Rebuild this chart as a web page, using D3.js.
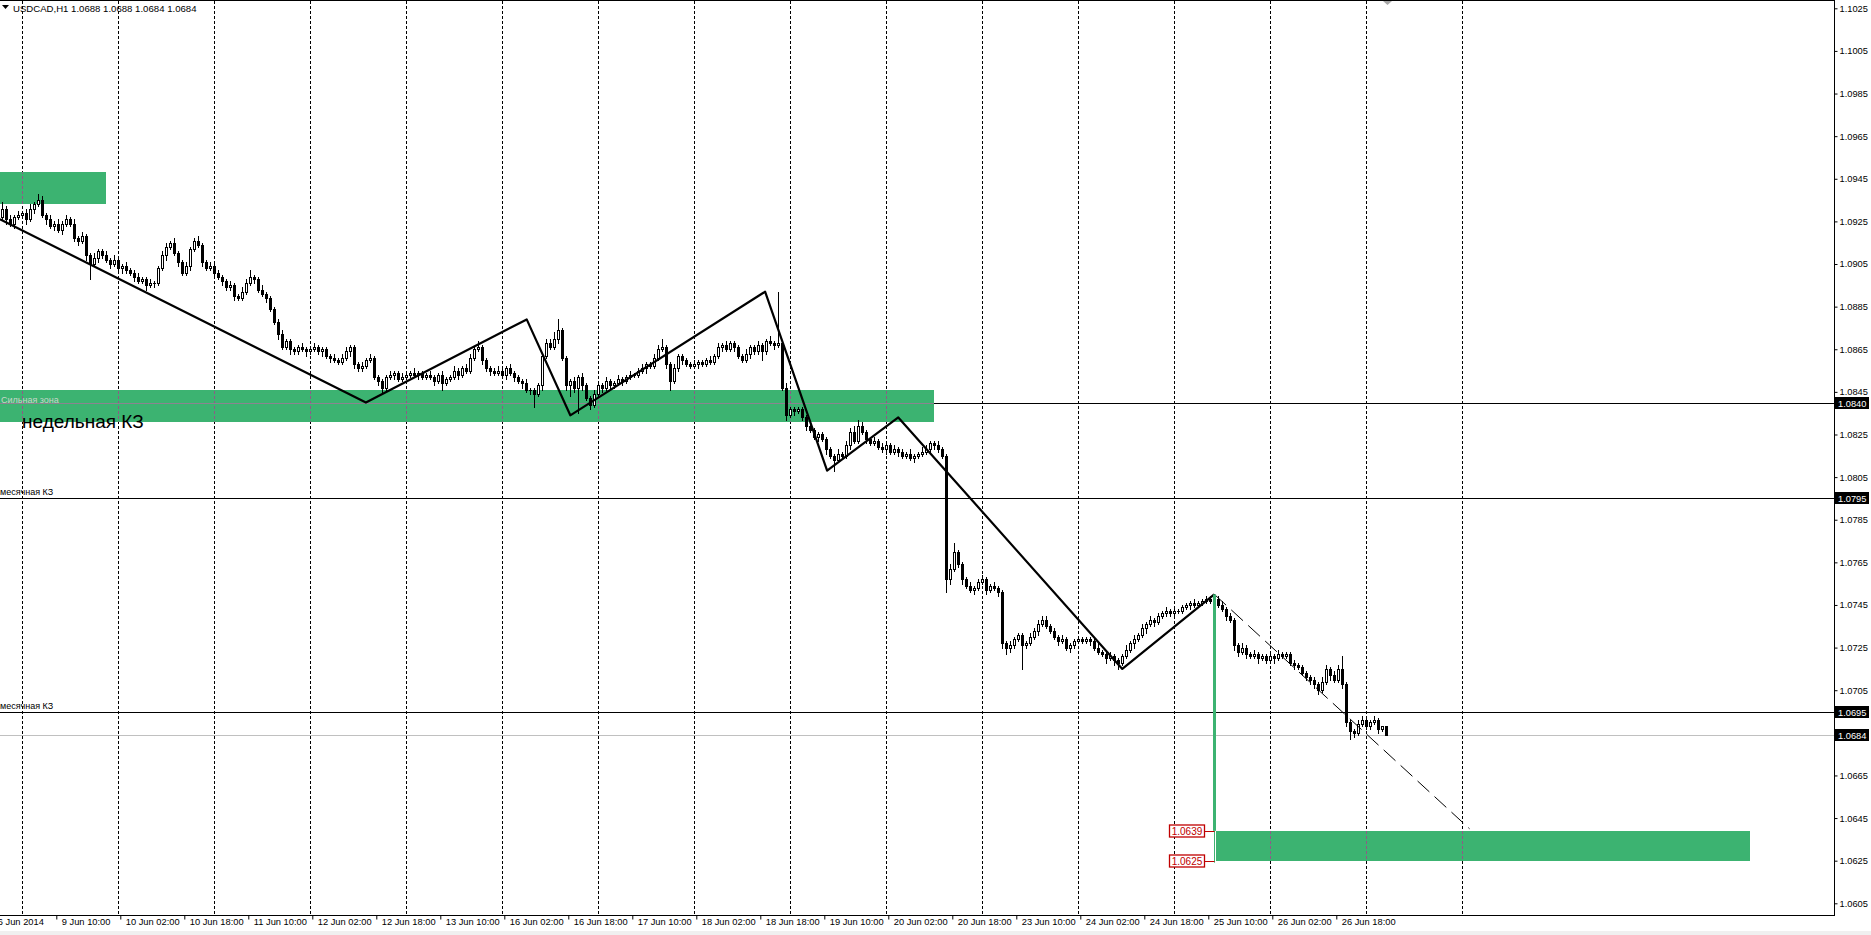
<!DOCTYPE html>
<html>
<head>
<meta charset="utf-8">
<script src="https://cdn.jsdelivr.net/npm/d3@7"></script>
<style>
  html, body { margin: 0; padding: 0; background: #fff; overflow: hidden; }
  svg { display: block; font-family: "Liberation Sans", Arial, sans-serif; }
</style>
</head>
<body>
<svg id="chart" width="1871" height="935"></svg>
<script>
// ---------------------------------------------------------------------
// USDCAD H1 data, in pips above 1.0000 (925 -> 1.0925). One bar per hour,
// bar index 0 = 9 Jun 2014 00:00. Open of a bar is the previous close.
// ---------------------------------------------------------------------
const firstBar  = -6;
const firstOpen = 925;

const closes = [
  927, 931, 926, 924, 927, 928,
  929, 926, 931, 933, 935, 928,
  926, 923, 924, 921, 924, 926,
  924, 917, 916, 918, 909, 905,
  908, 911, 909, 907,
  905, 907, 903, 904, 902,
  901, 899, 897, 898, 895, 896, 896,
  903, 909, 913, 915,
  910, 906, 901, 904,
  912, 916, 914, 906,
  903, 904, 901, 899,
  897, 894, 895, 890, 889, 892,
  896, 899, 898, 893, 891, 889,
  884, 878, 872, 866, 869, 865, 864,
  866, 865, 864, 865, 866, 864, 865,
  862, 861, 860, 859, 861, 864, 866,
  858, 856, 857, 860, 861,
  852, 850, 847, 852, 853, 854, 851, 852,
  853, 854, 853, 854, 852, 853,
  852, 850, 853, 849, 851,
  852, 855, 853, 856, 855,
  861, 865, 866, 860,
  856, 855, 854, 855, 853, 856, 854, 852,
  850, 849, 846, 846, 844, 848,
  862, 868, 866, 870, 874, 861, 848,
  850, 847, 852, 848, 842, 839, 844, 848, 847, 850,
  848, 849, 851, 850, 852, 853, 853, 855, 856, 858, 857, 861,
  865, 866, 858, 850, 856, 862, 860, 858,
  857, 858, 859, 858, 860, 859,
  862, 866, 867, 865, 868, 866, 862, 860,
  863, 866, 864, 867, 864, 869, 868, 867, 868,
  847, 834, 837, 836, 837,
  833, 829, 827, 824, 825, 823,
  818, 815, 813, 816, 815,
  820, 826, 822, 829, 826, 823, 821, 822,
  819, 818, 820, 817, 818, 817,
  815, 816, 814, 815, 816, 817,
  818, 821, 820, 818, 815,
  757, 762, 770, 764, 757,
  754, 752, 753, 756, 757, 752, 754, 753, 751,
  727, 725, 726, 729, 731, 726,
  727, 730, 733, 736, 738, 735, 733,
  730, 728, 729, 725, 726, 728,
  729, 728, 729, 728, 725, 723,
  722, 720, 721, 719, 718,
  721, 724, 727, 729, 731, 734, 736,
  738, 737, 740, 741, 742, 741, 742, 742,
  744, 745, 746, 745, 746, 747, 748, 747, 748,
  745, 743, 740, 738, 726,
  723, 725, 722, 721, 722, 720, 721, 719, 721, 720,
  722, 721, 722, 718, 717, 716,
  713, 711, 710, 708, 705, 709,
  715, 712, 710, 715, 708,
  690, 686, 685, 689, 691,
  688, 690, 691, 687, 688, 684
];

// wick length above the body, pips
const upWick = [
  2, 3, 1, 2, 1, 2,
  1, 2, 2, 1, 3, 2,
  1, 2, 1, 2, 1, 2,
  1, 2, 1, 2, 1, 1,
  2, 1, 1, 2,
  1, 2, 1, 1, 2,
  1, 1, 2, 1, 1, 2, 1,
  1, 2, 2, 1,
  2, 1, 1, 2,
  1, 1, 2, 1,
  1, 2, 1, 1,
  1, 1, 2, 1, 1, 2,
  2, 3, 1, 1, 2, 1,
  1, 1, 1, 2, 1, 1, 1,
  1, 2, 1, 1, 2, 1, 1,
  1, 1, 2, 1, 2, 2, 1,
  1, 1, 2, 1, 2,
  1, 1, 1, 1, 2, 1, 1, 2,
  1, 1, 2, 1, 1, 1,
  2, 1, 1, 2, 1,
  1, 2, 1, 1, 2,
  2, 1, 3, 1,
  1, 1, 1, 2, 1, 1, 2, 1,
  1, 1, 2, 1, 1, 1,
  1, 2, 2, 3, 5, 1, 1,
  1, 2, 1, 2, 1, 1, 2, 1, 1, 2,
  1, 1, 2, 1, 1, 2, 1, 1, 2, 1, 1, 2,
  2, 4, 1, 1, 2, 1, 1, 1,
  1, 2, 1, 1, 1, 2,
  1, 2, 1, 2, 1, 1, 1, 1,
  2, 1, 1, 2, 1, 1, 2, 1, 24,
  1, 2, 1, 1, 1,
  1, 1, 2, 1, 1, 1,
  1, 1, 1, 2, 1,
  2, 2, 3, 3, 2, 1, 1, 2,
  1, 2, 1, 1, 2, 1,
  1, 1, 2, 1, 1, 2,
  2, 1, 1, 2, 1,
  1, 2, 4, 1, 1,
  1, 2, 1, 1, 2, 1, 1, 2, 1,
  1, 1, 2, 1, 1, 1,
  1, 2, 1, 2, 2, 2, 1,
  1, 1, 2, 1, 1, 1,
  1, 1, 1, 1, 1, 2,
  1, 1, 2, 1, 1,
  1, 2, 1, 2, 1, 2, 1,
  2, 1, 1, 1, 2, 1, 1, 1,
  1, 1, 1, 2, 1, 1, 1, 1, 2,
  1, 2, 1, 1, 1,
  1, 2, 1, 1, 2, 1, 1, 1, 2, 1,
  2, 1, 1, 1, 1, 1,
  1, 1, 1, 1, 1, 2,
  2, 1, 2, 2, 6,
  1, 1, 1, 2, 2,
  1, 1, 2, 1, 0, 0
];

// wick length below the body, pips
const dnWick = [
  2, 1, 2, 1, 2, 1,
  1, 2, 1, 2, 1, 1,
  2, 1, 2, 1, 2, 1,
  1, 1, 2, 1, 2, 7,
  1, 2, 1, 1,
  2, 1, 1, 2, 1,
  1, 2, 1, 1, 2, 1, 2,
  1, 1, 2, 1,
  1, 2, 1, 1,
  2, 1, 1, 2,
  1, 1, 2, 1,
  2, 1, 1, 2, 1, 1,
  1, 1, 2, 1, 1, 2,
  1, 1, 2, 1, 1, 2, 1,
  1, 1, 2, 1, 1, 1, 2,
  1, 2, 1, 1, 1, 1, 2,
  2, 1, 1, 1, 1,
  1, 2, 3, 1, 1, 2, 1, 1,
  1, 1, 1, 2, 1, 1,
  1, 2, 1, 3, 1,
  1, 1, 2, 1, 1,
  1, 1, 1, 2,
  1, 2, 1, 1, 1, 2, 1, 2,
  1, 2, 1, 2, 6, 1,
  2, 1, 1, 1, 2, 1, 2,
  5, 2, 12, 2, 1, 2, 1, 1, 2, 1,
  1, 1, 1, 2, 1, 1, 1, 1, 1, 2, 1, 1,
  1, 1, 2, 4, 1, 1, 2, 1,
  1, 1, 2, 1, 1, 1,
  1, 1, 2, 1, 1, 2, 1, 1,
  1, 2, 1, 1, 4, 1, 1, 2, 1,
  1, 2, 1, 2, 1,
  1, 2, 1, 1, 2, 1,
  2, 1, 5, 1, 1,
  1, 2, 1, 1, 1, 2, 1, 1,
  1, 1, 2, 1, 1, 2,
  1, 1, 1, 2, 1, 1,
  1, 1, 2, 1, 1,
  6, 2, 1, 1, 2,
  1, 1, 2, 1, 1, 2, 1, 1, 2,
  2, 3, 2, 1, 1, 11,
  1, 1, 1, 2, 1, 1, 1,
  1, 2, 1, 1, 2, 1,
  1, 1, 1, 2, 1, 1,
  1, 2, 1, 2, 3,
  1, 1, 1, 2, 1, 1, 2,
  1, 2, 1, 1, 1, 1, 1, 1,
  1, 1, 2, 1, 1, 1, 1, 1, 1,
  1, 1, 2, 1, 2,
  2, 1, 2, 1, 1, 2, 1, 1, 1, 2,
  1, 1, 1, 1, 2, 1,
  1, 1, 2, 2, 2, 1,
  1, 2, 1, 1, 2,
  2, 4, 2, 1, 1,
  1, 1, 1, 2, 1, 0
];

// right price scale
const priceTicks = [1.1025, 1.1005, 1.0985, 1.0965, 1.0945, 1.0925, 1.0905,
                    1.0885, 1.0865, 1.0845, 1.0825, 1.0805, 1.0785, 1.0765,
                    1.0745, 1.0725, 1.0705, 1.0685, 1.0665, 1.0645, 1.0625, 1.0605];

// time scale: bar index of each label and its text
const timeBars   = [-6, 10, 26, 42, 58, 74, 90, 106, 122, 138, 154,
                    170, 186, 202, 218, 234, 250, 266, 282, 298, 314, 330];
const timeLabels = ["6 Jun 2014", "9 Jun 10:00", "10 Jun 02:00", "10 Jun 18:00",
                    "11 Jun 10:00", "12 Jun 02:00", "12 Jun 18:00", "13 Jun 10:00",
                    "16 Jun 02:00", "16 Jun 18:00", "17 Jun 10:00", "18 Jun 02:00",
                    "18 Jun 18:00", "19 Jun 10:00", "20 Jun 02:00", "20 Jun 18:00",
                    "23 Jun 10:00", "24 Jun 02:00", "24 Jun 18:00", "25 Jun 10:00",
                    "26 Jun 02:00", "26 Jun 18:00"];

// vertical grid: start of every trading day
const gridBars = [0, 24, 48, 72, 96, 120, 144, 168, 192, 216, 240, 264, 288, 312, 336, 360];

// hand drawn objects
const zigzag     = [[-5.6, 1.0926], [85.9, 1.0840], [126.1, 1.0879], [137.0, 1.0834],
                    [185.7, 1.0892], [201.2, 1.0808], [219.0, 1.0833], [275.0, 1.0715],
                    [298.0, 1.0750]];
const projection = [[298.0, 1.0750], [361.8, 1.0640]];
const zones      = [{x0: -5.6, x1: 20.9,  p0: 1.0933, p1: 1.0948},
                    {x0: -5.6, x1: 227.9, p0: 1.0831, p1: 1.0846},
                    {x0: 298.5, x1: 432,  p0: 1.0625, p1: 1.0639}];
const levels     = [1.0840, 1.0795, 1.0695];
const bidPrice   = 1.0684;
const targetBar  = 298.0;
const targetTop  = 1.0750;
const targetPrices = [1.0639, 1.0625];
const title      = "USDCAD,H1  1.0688 1.0688 1.0684 1.0684";

// ---------------------------------------------------------------------
const PLOT_R = 1834, PLOT_B = 915;
const GREEN = "#3cb371";

const svg = d3.select("#chart");
const x = d3.scaleLinear().domain([0, 360]).range([22.3, 1462.3]);
const y = d3.scaleLinear().domain([1.0605, 1.1025]).range([903.3, 8.3]);
const px = p => 1 + p / 10000;
const snap = v => Math.round(v) + 0.5;

// build OHLC bars
let prev = firstOpen;
const bars = closes.map((c, k) => {
  let o = prev, hi = Math.max(o, c) + upWick[k], lo = Math.min(o, c) - dnWick[k];
  prev = c;
  return {i: firstBar + k, o: px(o), h: px(hi), l: px(lo), c: px(c)};
});

// background
svg.append("rect").attr("width", 1871).attr("height", 935).attr("fill", "#fff");
svg.append("rect").attr("x", 0).attr("y", 931).attr("width", 1871).attr("height", 4)
  .attr("fill", "#f0f0f0");

svg.append("defs").append("clipPath").attr("id", "plot")
  .append("rect").attr("x", 0).attr("y", 0).attr("width", PLOT_R).attr("height", PLOT_B);

const zoneClip = svg.select("defs").append("clipPath").attr("id", "zones");
zones.forEach(z => zoneClip.append("rect")
  .attr("x", x(z.x0)).attr("y", y(z.p1))
  .attr("width", x(z.x1) - x(z.x0)).attr("height", y(z.p0) - y(z.p1)));

const plot = svg.append("g").attr("clip-path", "url(#plot)");

// grid
function drawGrid(g, color) {
  g.selectAll("line").data(gridBars).join("line")
    .attr("x1", d => snap(x(d))).attr("x2", d => snap(x(d)))
    .attr("y1", 1).attr("y2", PLOT_B)
    .attr("stroke", color).attr("stroke-width", 1)
    .attr("stroke-dasharray", "3,2");
}
drawGrid(plot.append("g"), "#000");

// zones
plot.append("g").selectAll("rect").data(zones).join("rect")
  .attr("x", d => Math.round(x(d.x0))).attr("y", d => Math.round(y(d.p1)))
  .attr("width", d => Math.round(x(d.x1) - x(d.x0)))
  .attr("height", d => Math.round(y(d.p0) - y(d.p1)))
  .attr("fill", GREEN);
drawGrid(plot.append("g").attr("clip-path", "url(#zones)"), "#8e5a86");

// horizontal levels
const weekly = zones[1];
levels.forEach((p, k) => {
  plot.append("line")
    .attr("x1", k === 0 ? x(weekly.x1) : 0).attr("x2", PLOT_R)
    .attr("y1", snap(y(p))).attr("y2", snap(y(p)))
    .attr("stroke", "#000");
});
plot.append("line")
  .attr("x1", 0).attr("x2", x(weekly.x1))
  .attr("y1", snap(y(levels[0]))).attr("y2", snap(y(levels[0])))
  .attr("stroke", "#8c8390");
plot.append("line")
  .attr("x1", 0).attr("x2", PLOT_R)
  .attr("y1", snap(y(bidPrice))).attr("y2", snap(y(bidPrice)))
  .attr("stroke", "#c0c0c0");

// zone and level captions
plot.append("text").attr("x", 1).attr("y", snap(y(weekly.p1)) + 12)
  .attr("font-size", 9).attr("fill", "#c9d6c9").text("Сильная зона");
plot.append("text").attr("x", 22).attr("y", 428)
  .attr("font-size", 19).attr("fill", "#000").text("недельная КЗ");
[levels[1], levels[2]].forEach(p => {
  plot.append("text").attr("x", 0).attr("y", Math.round(y(p)) - 3)
    .attr("font-size", 9).attr("fill", "#000").text("месячная КЗ");
});

// candles
const cg = plot.append("g");
bars.forEach(b => {
  const cx = Math.round(x(b.i)) + 0.5;
  cg.append("line").attr("x1", cx).attr("x2", cx)
    .attr("y1", Math.round(y(b.h))).attr("y2", Math.round(y(b.l)) + 1)
    .attr("stroke", "#000");
  const top = Math.round(y(Math.max(b.o, b.c))), bot = Math.round(y(Math.min(b.o, b.c)));
  if (b.c < b.o) {
    cg.append("rect").attr("x", cx - 1.5).attr("y", top)
      .attr("width", 3).attr("height", Math.max(1, bot - top + 1)).attr("fill", "#000");
  } else if (bot - top < 2) {
    cg.append("line").attr("x1", cx - 1.5).attr("x2", cx + 1.5)
      .attr("y1", top + 0.5).attr("y2", top + 0.5).attr("stroke", "#000");
  } else {
    cg.append("rect").attr("x", cx - 1).attr("y", top + 0.5)
      .attr("width", 2).attr("height", bot - top)
      .attr("fill", "#fff").attr("stroke", "#000");
  }
});

// zigzag
const line = d3.line().x(d => x(d[0])).y(d => y(d[1]));
plot.append("path").datum(zigzag).attr("d", line)
  .attr("fill", "none").attr("stroke", "#000").attr("stroke-width", 2.2)
  .attr("stroke-linejoin", "round");
plot.append("path").datum(projection).attr("d", line)
  .attr("fill", "none").attr("stroke", "#000").attr("stroke-width", 1)
  .attr("stroke-dasharray", "16,7");

// target move
const tx = Math.round(x(targetBar)) + 0.5;
plot.append("line").attr("x1", tx).attr("x2", tx)
  .attr("y1", y(targetTop)).attr("y2", y(targetPrices[0]))
  .attr("stroke", GREEN).attr("stroke-width", 3);
plot.append("line").attr("x1", tx).attr("x2", tx)
  .attr("y1", y(targetPrices[0])).attr("y2", y(targetPrices[1]) + 2)
  .attr("stroke", GREEN).attr("stroke-width", 1);
targetPrices.forEach(p => {
  const yy = Math.round(y(p));
  plot.append("line").attr("x1", tx - 10).attr("x2", tx).attr("y1", yy + 0.5).attr("y2", yy + 0.5)
    .attr("stroke", "#c00000");
  plot.append("rect").attr("x", tx - 45).attr("y", yy - 6)
    .attr("width", 35).attr("height", 12)
    .attr("fill", "#fff").attr("stroke", "#c00000").attr("stroke-width", 1.3);
  plot.append("text").attr("x", tx - 27.5).attr("y", yy + 4)
    .attr("text-anchor", "middle").attr("font-size", 10).attr("fill", "#c00000")
    .text(p.toFixed(4));
});

// frame
svg.append("line").attr("x1", 0).attr("x2", PLOT_R).attr("y1", 0.5).attr("y2", 0.5).attr("stroke", "#000");
svg.append("line").attr("x1", PLOT_R + 0.5).attr("x2", PLOT_R + 0.5).attr("y1", 0).attr("y2", PLOT_B + 1).attr("stroke", "#000");
svg.append("line").attr("x1", 0).attr("x2", PLOT_R + 1).attr("y1", PLOT_B + 0.5).attr("y2", PLOT_B + 0.5).attr("stroke", "#000");
svg.append("path").attr("d", "M1383,1 L1392,1 L1387.5,5 Z").attr("fill", "#a8a8a8");

// price axis
const yAxis = svg.append("g").attr("transform", `translate(${PLOT_R + 0.5},0)`)
  .call(d3.axisRight(y).tickValues(priceTicks).tickSize(3).tickPadding(2)
          .tickFormat(d3.format(".4f")));
yAxis.select(".domain").remove();
yAxis.selectAll("line").attr("stroke", "#000");
yAxis.selectAll("text").attr("font-size", 9.3).attr("fill", "#000")
  .attr("font-family", "Liberation Sans, Arial, sans-serif");

// price tags on the axis
[...levels, bidPrice].forEach(p => {
  const yy = Math.round(y(p));
  svg.append("rect").attr("x", PLOT_R + 1).attr("y", yy - 6)
    .attr("width", 34).attr("height", 12).attr("fill", "#000");
  svg.append("text").attr("x", PLOT_R + 4).attr("y", yy + 4)
    .attr("font-size", 9.3).attr("fill", "#fff").text(p.toFixed(4));
});

// time axis
const xTick = x.copy().range(x.range().map(v => v - 6));
const xAxis = svg.append("g").attr("transform", `translate(0,${PLOT_B + 0.5})`)
  .call(d3.axisBottom(xTick).tickValues(timeBars).tickSize(4).tickPadding(2)
          .tickFormat((d, k) => timeLabels[k]));
xAxis.select(".domain").remove();
xAxis.selectAll("line").attr("stroke", "#000");
xAxis.selectAll("text").attr("text-anchor", "start").attr("x", 5).attr("y", 3)
  .attr("font-size", 9.3).attr("fill", "#000")
  .attr("font-family", "Liberation Sans, Arial, sans-serif");

// title
svg.append("path").attr("d", "M2,5 L9,5 L5.5,9 Z").attr("fill", "#000");
svg.append("text").attr("x", 13).attr("y", 12).attr("font-size", 9.6)
  .attr("fill", "#000").text(title);
</script>
</body>
</html>
